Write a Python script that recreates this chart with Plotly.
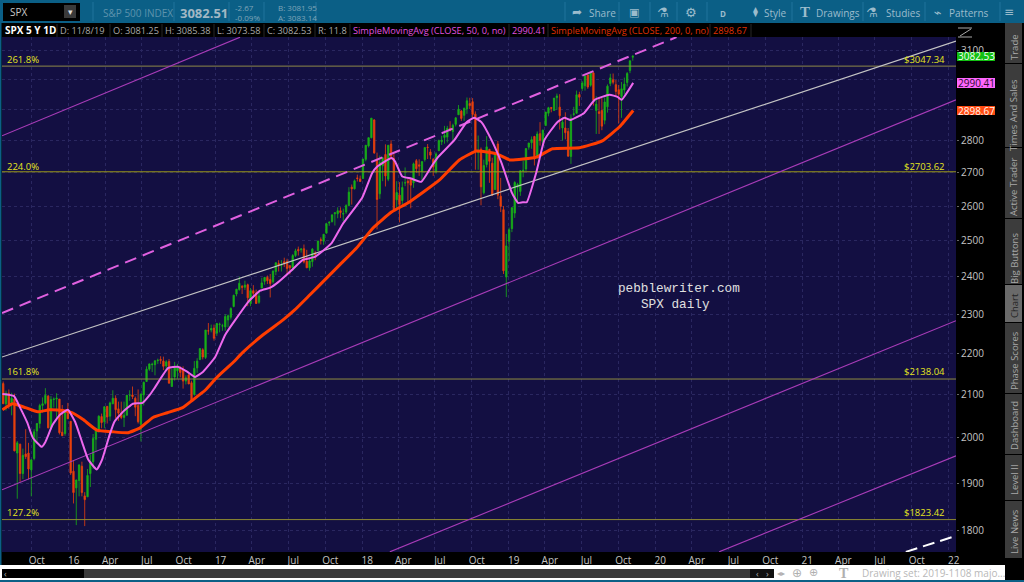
import pandas as pd
import plotly.graph_objects as go

# ---------- data ----------
week_start = "2015-07-22"

opens = [2127,2079,2104,2080,2090,1966,1986,1921,1964,1966,1929,1954,2016,2033,2075,2080,2097,2023,2089,2090,2090,2013,2010,2057,
 2038,1926,1890,1906,1937,1873,1871,1921,1947,1997,2020,2049,2037,2073,2050,2079,2092,2067,2057,2047,2052,2099,2100,2092,2075,2031,2100,2132,2162,2173,2173,2183,2186,2182,2170,2181,2120,2143,2158,2164,2160,2133,2148,2129,2101,2165,2186,2210,2191,2258,2260,2265,
 2252,2274,2270,2268,2286,2293,2321,2354,2366,2375,2372,2379,2329,2363,2357,2332,2370,2388,2399,2393,2387,2415,2437,2432,2442,2443,2431,2425,2459,2476,2475,2478,2443,2425,2442,2466,2473,2503,2499,2522,2551,2555,2578,2578,2587,2577,2583,2602,2657,2652,2685,2682,
 2683,2742,2784,2810,2867,2741,2637,2722,2757,2681,2790,2745,2619,2633,2617,2670,2675,2682,2670,2738,2725,2705,2741,2780,2765,2742,2705,2769,2797,2811,2812,2840,2830,2853,2884,2896,2882,2903,2921,2927,2886,2763,2773,2640,2726,2773,2730,2650,2790,2630,2590,2400,2499,
 2535,2580,2657,2644,2706,2712,2780,2794,2814,2747,2823,2797,2849,2889,2908,2898,2940,2909,2841,2841,2830,2751,2885,2889,2951,2971,2980,3017,2982,3024,2898,2894,2898,2866,2910,2988,3001,2984,2967,2944,2966,2991,3032,3078]
highs = [2132,2110,2113,2105,2103,1993,1987,1976,2020,1989,1952,2020,2034,2079,2094,2116,2100,2097,2094,2104,2090,2076,2064,2081,
 2038,1950,1908,1940,1947,1881,1931,1963,2009,2022,2052,2056,2073,2073,2084,2111,2099,2084,2084,2084,2100,2111,2120,2096,2113,2103,2132,2169,2176,2178,2183,2188,2194,2193,2184,2187,2163,2180,2175,2169,2169,2147,2151,2134,2182,2189,2214,2214,2260,2278,2274,2274,
 2278,2279,2276,2301,2300,2319,2352,2368,2401,2378,2390,2382,2370,2378,2366,2362,2398,2400,2404,2408,2418,2440,2446,2446,2453,2450,2432,2463,2478,2484,2480,2490,2475,2454,2480,2472,2500,2510,2519,2552,2557,2576,2582,2597,2597,2593,2606,2657,2665,2680,2695,2692,
 2743,2787,2811,2873,2870,2763,2754,2747,2789,2787,2802,2760,2675,2672,2674,2717,2683,2682,2732,2743,2742,2735,2779,2790,2774,2746,2764,2804,2816,2848,2848,2863,2855,2876,2916,2900,2908,2941,2940,2939,2895,2817,2779,2741,2815,2775,2747,2760,2800,2685,2601,2520,2538,
 2597,2675,2670,2709,2738,2776,2794,2814,2816,2830,2860,2836,2893,2910,2909,2939,2954,2952,2875,2892,2841,2885,2910,2964,2960,2996,3014,3018,3028,3028,2945,2943,2939,2941,2985,3021,3022,3000,2983,2993,3008,3027,3066,3085]
lows = [2079,2063,2067,2052,1970,1867,1903,1909,1953,1908,1872,1950,1987,2022,2058,2077,2022,2019,2070,2042,2008,2005,2005,2043,
 1918,1857,1812,1872,1872,1810,1871,1892,1931,1969,2012,2022,2022,2033,2039,2078,2045,2039,2043,2025,2052,2086,2090,2050,2033,1992,2075,2131,2158,2155,2147,2175,2175,2160,2158,2127,2120,2134,2139,2142,2115,2125,2126,2084,2098,2153,2184,2186,2187,2248,2254,2233,
 2245,2254,2258,2258,2267,2287,2319,2348,2363,2354,2365,2322,2322,2344,2328,2328,2370,2379,2381,2345,2382,2405,2415,2415,2427,2405,2407,2416,2455,2459,2467,2437,2425,2417,2428,2446,2473,2490,2489,2521,2543,2553,2544,2565,2566,2557,2578,2600,2605,2650,2674,2673,
 2683,2736,2779,2808,2759,2533,2622,2675,2659,2675,2741,2585,2593,2553,2605,2660,2612,2594,2655,2701,2691,2676,2735,2743,2742,2691,2698,2770,2787,2791,2795,2830,2802,2846,2884,2864,2864,2887,2903,2874,2710,2710,2603,2635,2717,2670,2631,2649,2621,2583,2408,2346,2444,
 2525,2566,2612,2631,2687,2705,2772,2775,2723,2745,2785,2785,2849,2879,2892,2898,2900,2836,2801,2805,2750,2728,2879,2887,2913,2963,2964,2970,2977,2914,2822,2822,2834,2853,2891,2979,2985,2945,2856,2874,2952,2978,3023,3066]
closes = [2079,2104,2078,2092,1971,1989,1921,1961,1958,1931,1951,2014,2033,2075,2079,2099,2023,2089,2090,2092,2012,2005,2060,2044,
 1922,1880,1907,1940,1880,1865,1917,1948,1999,2022,2050,2035,2072,2048,2081,2092,2065,2057,2047,2052,2099,2099,2096,2071,2037,2102,2130,2162,2175,2174,2183,2184,2184,2169,2180,2128,2139,2165,2168,2154,2133,2141,2126,2085,2164,2182,2213,2192,2260,2258,2264,2239,
 2277,2275,2271,2295,2297,2316,2351,2367,2383,2372,2378,2344,2363,2356,2329,2349,2384,2399,2390,2382,2416,2439,2432,2433,2438,2423,2425,2459,2472,2472,2477,2441,2425,2444,2477,2461,2500,2502,2519,2549,2553,2575,2581,2587,2582,2579,2602,2642,2652,2676,2683,2674,
 2743,2786,2810,2873,2762,2620,2732,2747,2691,2786,2752,2588,2641,2605,2656,2670,2670,2663,2728,2713,2721,2735,2779,2779,2755,2718,2759,2801,2802,2818,2840,2833,2850,2874,2902,2872,2905,2930,2914,2885,2767,2767,2658,2723,2781,2736,2633,2760,2633,2600,2417,2486,2532,
 2596,2671,2665,2707,2708,2776,2793,2804,2743,2822,2801,2834,2893,2907,2905,2939,2946,2881,2860,2826,2752,2873,2887,2950,2942,2990,3014,2976,3026,2932,2919,2888,2847,2926,2979,3007,2992,2961,2952,2970,2986,3022,3066,3082]

sma50_dates = ["2015-07-20","2015-08-18","2015-09-02","2015-09-20","2015-10-04","2015-10-26","2015-11-03","2015-11-22","2015-12-10","2015-12-30",
 "2016-01-17","2016-02-04","2016-02-19","2016-03-11","2016-03-24","2016-04-12","2016-04-24","2016-05-15","2016-06-09","2016-07-03","2016-07-21","2016-08-03","2016-09-05","2016-09-29","2016-10-22","2016-11-11","2016-12-01","2016-12-31",
 "2017-01-25","2017-02-19","2017-03-24","2017-04-22","2017-05-17","2017-06-06","2017-07-10","2017-08-06","2017-09-05","2017-10-17","2017-11-13",
 "2018-01-01","2018-01-26","2018-02-07","2018-03-15","2018-03-24","2018-04-11","2018-05-03","2018-05-28","2018-06-22","2018-07-07","2018-08-19","2018-09-18","2018-10-07","2018-10-25","2018-11-19","2018-12-14",
 "2019-01-09","2019-01-24","2019-02-05","2019-02-15","2019-03-11","2019-03-31","2019-05-02","2019-05-20","2019-06-04","2019-07-08","2019-08-03","2019-09-09","2019-09-29","2019-10-09","2019-11-07"]
sma50 = [2102,2097,2070,2035,2000,1980,1989,2030,2053,2065,
 2037,1989,1951,1930,1951,2007,2037,2060,2079,2081,2100,2118,2165,2168,2156,2143,2156,2192,
 2248,2286,2334,2363,2371,2386,2419,2447,2455,2494,2547,
 2625,2700,2719,2746,2735,2689,2683,2673,2719,2746,2803,2860,2874,2860,2803,2731,
 2640,2610,2612,2612,2703,2803,2860,2874,2867,2890,2933,2950,2943,2933,2990]

sma200_dates = ["2015-07-20","2015-08-14","2015-09-15","2015-10-16","2015-11-15","2015-12-17",
 "2016-01-09","2016-02-06","2016-03-11","2016-04-20","2016-05-28","2016-06-27","2016-07-29","2016-09-03","2016-10-11","2016-11-05","2016-12-06",
 "2017-01-05","2017-02-14","2017-03-09","2017-04-27","2017-06-18","2017-07-17","2017-08-24","2017-09-30","2017-11-06","2017-12-18",
 "2018-01-28","2018-03-15","2018-04-29","2018-07-12","2018-08-31","2018-10-13","2018-12-02",
 "2019-01-04","2019-03-11","2019-04-20","2019-06-26","2019-08-22","2019-10-04","2019-11-07"]
sma200 = [2065,2079,2070,2060,2065,2063,
 2058,2042,2018,2014,2012,2023,2047,2058,2070,2088,2111,
 2143,2179,2203,2246,2286,2312,2352,2392,2433,2480,
 2537,2583,2613,2678,2740,2768,2759,
 2740,2749,2775,2778,2800,2845,2898]

# trend channels: two dates, two prices each
dashed_pink_x = ["2015-07-19", "2020-02-23"]
dashed_pink_y = [2304, 3149]
white_x = ["2015-07-19", "2022-01-19"]
white_y = [2192, 3135]
purple_a_x = ["2015-07-19", "2017-03-03"]
purple_a_y = [2816, 3149]
purple_b_x = ["2015-07-19", "2022-01-19"]
purple_b_y = [1886, 2933]
purple_c_x = ["2018-03-11", "2022-01-19"]
purple_c_y = [1758, 2284]
purple_d_x = ["2020-06-08", "2022-01-19"]
purple_d_y = [1758, 1960]
dashed_white_x = ["2021-09-16", "2022-01-19"]
dashed_white_y = [1758, 1790]

fib_levels = [3047.34, 2703.62, 2138.04, 1823.42]
fib_pcts = ["261.8%", "224.0%", "161.8%", "127.2%"]
fib_prices = ["$3047.34", "$2703.62", "$2138.04", "$1823.42"]
fib_colors = ["#8f8a48", "#9c9a18", "#8f8c40", "#8f8a30"]
x_span = ["2015-07-19", "2022-01-19"]

y_ticks = [1800, 1900, 2000, 2100, 2200, 2300, 2400, 2500, 2600, 2700, 2800, 2900, 3000, 3100]
y_tick_text = ["1800", "1900", "2000", "2100", "2200", "2300", "2400", "2500", "2600", "2700", "2800", "", "", "3100"]
x_tick_dates = ["2015-10-01","2016-01-01","2016-04-01","2016-07-01","2016-10-01","2017-01-01","2017-04-01","2017-07-01","2017-10-01",
 "2018-01-01","2018-04-01","2018-07-01","2018-10-01","2019-01-01","2019-04-01","2019-07-01","2019-10-01","2020-01-01","2020-04-01",
 "2020-07-01","2020-10-01","2021-01-01","2021-04-01","2021-07-01","2021-10-01","2022-01-01"]
x_tick_text = ["Oct","16","Apr","Jul","Oct","17","Apr","Jul","Oct","18","Apr","Jul","Oct","19","Apr","Jul","Oct","20","Apr","Jul","Oct","21","Apr","Jul","Oct","22"]

# ---------- figure ----------
W, H = 1024, 582
def X(p): return p / W
def Y(p): return 1 - p / H

n = min(len(opens), len(highs), len(lows), len(closes))
dates = pd.date_range(week_start, periods=n, freq="7D")

fig = go.Figure()
fig.add_trace(go.Candlestick(
    x=dates, open=opens[:n], high=highs[:n], low=lows[:n], close=closes[:n],
    increasing=dict(line=dict(color="#18b018", width=0.8), fillcolor="#18b018"),
    decreasing=dict(line=dict(color="#e8400c", width=0.8), fillcolor="#e8400c"),
    whiskerwidth=0, hoverinfo="skip", showlegend=False))

def line(x, y, color, width=1.1, dash="solid", shape="linear", smoothing=None):
    ln = dict(color=color, width=width, dash=dash, shape=shape)
    if smoothing is not None:
        ln["smoothing"] = smoothing
    fig.add_trace(go.Scatter(x=x, y=y, mode="lines", hoverinfo="skip", showlegend=False, line=ln))

for lvl, col in zip(fib_levels, fib_colors):
    line(x_span, [lvl, lvl], col, 1)
line(purple_a_x, purple_a_y, "#a83cb8")
line(purple_b_x, purple_b_y, "#a83cb8")
line(purple_c_x, purple_c_y, "#a83cb8")
line(purple_d_x, purple_d_y, "#a83cb8")
line(white_x, white_y, "#c4c4c4", 1.2)
line(dashed_pink_x, dashed_pink_y, "#e060e0", 2, "12px,7px")
line(dashed_white_x, dashed_white_y, "#ffffff", 2, "12px,6px")
line(sma200_dates, sma200, "#ff3d00", 3, shape="spline", smoothing=0.4)
line(sma50_dates, sma50, "#ee68ee", 2, shape="spline", smoothing=0.4)

shapes, notes = [], []
def rect(x0, y0, x1, y1, fill):
    shapes.append(dict(type="rect", xref="paper", yref="paper", x0=X(x0), x1=X(x1), y0=Y(y0), y1=Y(y1),
                       fillcolor=fill, line=dict(width=0), layer="above"))
def seg(x0, y0, x1, y1, color, width=1):
    shapes.append(dict(type="line", xref="paper", yref="paper", x0=X(x0), x1=X(x1), y0=Y(y0), y1=Y(y1),
                       line=dict(color=color, width=width), layer="above"))
def txt(x, y, s, color, size=10, anchor="left", font="Open Sans", angle=0, bold=False):
    if bold:
        s = "<b>" + s + "</b>"
    notes.append(dict(xref="paper", yref="paper", x=X(x), y=Y(y), text=s, showarrow=False, xanchor=anchor, yanchor="middle",
                      textangle=angle, font=dict(family=font, size=size, color=color), borderpad=0, borderwidth=0))

TEAL = "#0b5f86"
# top toolbar
rect(0, 0, 1024, 23, TEAL)
rect(3, 3, 80, 21, "#000000")
rect(64, 5, 76, 18, "#3a3a3a")
txt(10, 12, "SPX", "#c8c8c8", 10)
txt(70, 11, "▾", "#dddddd", 9, "center")
txt(103, 13, "S&P 500 INDEX", "#5d93ad", 10)
txt(180, 13, "3082.51", "#a2b8c4", 13, bold=True)
txt(235, 8, "-2.67", "#7fa5b8", 8)
txt(235, 17, "-0.09%", "#7fa5b8", 8)
txt(278, 8, "B: 3081.95", "#7fa5b8", 8)
txt(278, 17, "A: 3083.14", "#7fa5b8", 8)
for sx in [93, 174, 229, 264, 316, 565, 619, 650, 677, 707, 792, 863, 925, 1000]:
    seg(sx, 2, sx, 21, "#20759c", 1)
tool_color = "#9cbccc"
txt(577, 12, "➦", tool_color, 12, "center", "DejaVu Sans")
txt(589, 13, "Share", tool_color, 10)
txt(634, 12, "▣", tool_color, 11, "center", "DejaVu Sans")
txt(663, 12, "⚗", tool_color, 13, "center", "DejaVu Sans")
txt(691, 12, "⚙", tool_color, 13, "center", "DejaVu Sans")
txt(723, 13, "D", tool_color, 8, "center", bold=True)
txt(755, 12, "⧫", tool_color, 10, "center", "DejaVu Sans")
txt(764, 13, "Style", tool_color, 10)
txt(805, 12, "T", tool_color, 15, "center", "Liberation Serif", bold=True)
txt(816, 13, "Drawings", tool_color, 10)
txt(872, 12, "⚗", tool_color, 13, "center", "DejaVu Sans")
txt(886, 13, "Studies", tool_color, 10)
txt(938, 12, "⌁", tool_color, 13, "center", "DejaVu Sans")
txt(949, 13, "Patterns", tool_color, 10)
txt(1009, 12, "≡", tool_color, 12, "center", "DejaVu Sans")

# left strip and header row
rect(0, 0, 1.5, 582, TEAL)
txt(5, 30, "SPX 5 Y 1D", "#ffffff", 10, bold=True)
hdr_items = [(60, "D: 11/8/19", "#a8a8a8"), (113, "O: 3081.25", "#a8a8a8"), (165, "H: 3085.38", "#a8a8a8"),
             (217, "L: 3073.58", "#a8a8a8"), (267, "C: 3082.53", "#a8a8a8"), (318, "R: 11.8", "#a8a8a8"),
             (353, "SimpleMovingAvg (CLOSE, 50, 0, no)", "#e050e0"), (512, "2990.41", "#e050e0"),
             (551, "SimpleMovingAvg (CLOSE, 200, 0, no)", "#e03000"), (713, "2898.67", "#e03000")]
for hx, hs, hc in hdr_items:
    txt(hx, 30, hs, hc, 9.2)
for sx in [57, 110, 162, 214, 264, 315, 350, 509, 548, 710, 751]:
    seg(sx, 24, sx, 37, "#262626", 1)

# expand icon
seg(958, 28, 972, 28, "#aaaaaa", 1)
seg(958, 37, 972, 37, "#aaaaaa", 1)
seg(960, 36, 971, 29, "#aaaaaa", 1)

# price bubbles
rect(957, 52, 995, 61, "#12c012")
rect(957, 78, 995, 88, "#ff66ff")
rect(957, 106, 995, 115, "#ff4a10")
txt(976, 56.5, "3082.53", "#f4fff4", 10, "center")
txt(976, 83, "2990.41", "#2a0a2a", 10, "center")
txt(976, 110.5, "2898.67", "#fff4ee", 10, "center")

# fib labels
fib_label_y = [60, 166, 372, 512]
for fy, a, b in zip(fib_label_y, fib_pcts, fib_prices):
    txt(7, fy, a, "#e6e620", 9.5)
    txt(945, fy, b, "#e6e620", 9.5, "right")

# watermark
txt(679, 288, "pebblewriter.com", "#e0e0e0", 12.7, "center", "Liberation Mono")
txt(675, 304, "SPX daily", "#e0e0e0", 12.7, "center", "Liberation Mono")

# bottom bars
rect(0, 565, 1005, 580, "#ffffff")
rect(2, 569, 84, 578, "#000000")
rect(84, 569, 750, 578, "#3b3b3b")
rect(750, 569, 774, 578, "#111111")
rect(0, 580, 1024, 582, TEAL)
txt(5, 573, "‹", "#aaaaaa", 9, "center")
txt(757, 573, "‹", "#aaaaaa", 9, "center")
txt(767, 573, "›", "#aaaaaa", 9, "center")
txt(781, 573, "◂▸", "#b0b0b0", 8, "center", "DejaVu Sans")
txt(797, 573, "⊕", "#b0b0b0", 12, "center", "DejaVu Sans")
txt(813, 572, "⊕", "#b0b0b0", 11, "center", "DejaVu Sans")
txt(844, 573, "T", "#b0b0b0", 14, "center", "Liberation Serif", bold=True)
txt(862, 573, "Drawing set: 2019-1108 majo...", "#b8b8b8", 10)

# right side tabs
tabs = [("Trade", 23, 63, 47), ("Times And Sales", 64, 147, 115), ("Active Trader", 148, 218, 187), ("Big Buttons", 219, 284, 259),
        ("Chart", 285, 322, 306), ("Phase Scores", 323, 393, 361), ("Dashboard", 394, 454, 426), ("Level II", 455, 500, 480),
        ("Live News", 501, 558, 532)]
for name, t0, t1, tc in tabs:
    active = name == "Chart"
    rect(1005, t0, 1022, t1, "#6a6a6a" if active else "#3c3c3c")
    txt(1014, tc, name, "#222222" if active else "#a8a8a8", 9.5, "center", angle=-90)

fig.update_layout(
    width=W, height=H, autosize=False,
    margin=dict(l=0, r=0, t=0, b=0, pad=0, autoexpand=False),
    paper_bgcolor="#000000", plot_bgcolor="#130f42",
    showlegend=False, shapes=shapes, annotations=notes,
    xaxis=dict(domain=[X(2), X(956)], type="date", range=["2015-07-19", "2022-01-19"],
               rangeslider=dict(visible=False), tickmode="array", tickvals=x_tick_dates, ticktext=x_tick_text,
               showgrid=True, gridcolor="#2a2760", griddash="dot", gridwidth=1, zeroline=False,
               ticks="", ticklabelshift=5, ticklabelstandoff=1, showline=False,
               tickfont=dict(family="Open Sans", size=10, color="#c4c4c4")),
    yaxis=dict(domain=[Y(552), Y(37)], type="log", range=[3.24494, 3.49824], side="right",
               tickmode="array", tickvals=y_ticks, ticktext=y_tick_text,
               showgrid=True, gridcolor="#2a2760", griddash="dot", gridwidth=1, zeroline=False,
               ticks="outside", ticklen=2, tickcolor="#666666", showline=False,
               tickfont=dict(family="Open Sans", size=10, color="#c4c4c4")),
)

fig.write_html("out.html", include_plotlyjs=True, config=dict(displayModeBar=False),
               post_script="document.body.style.margin='0';document.body.style.overflow='hidden';")
